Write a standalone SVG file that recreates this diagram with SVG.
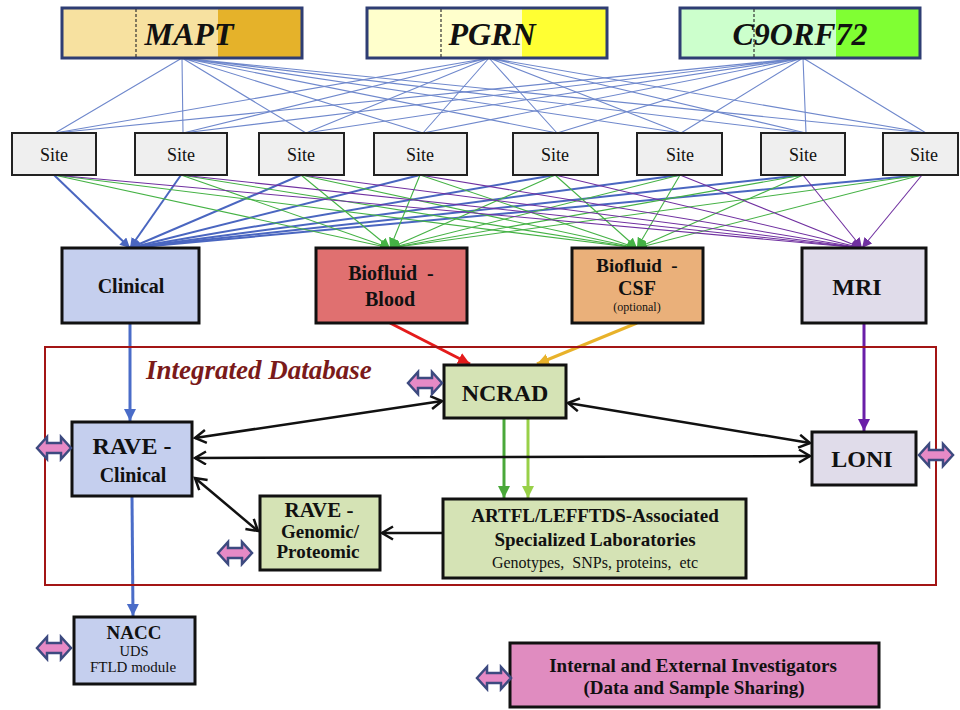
<svg xmlns="http://www.w3.org/2000/svg" width="960" height="710" viewBox="0 0 960 710">
<style>
text{font-family:"Liberation Serif","Times New Roman",serif;text-anchor:middle;fill:#111}
.b{font-weight:bold}
.gene{font-weight:bold;font-style:italic;font-size:32px}
.gbox{stroke:#2e3d73;stroke-width:3}
.dash{stroke:#333;stroke-width:1.2;stroke-dasharray:3 2}
.site{fill:#efefef;stroke:#222;stroke-width:2}
.box{stroke:#111;stroke-width:3}
.fan{stroke:#6f88cc;stroke-width:1.1;fill:none}
.sb{stroke:#4a66c0;stroke-width:2;fill:none}
.sg{stroke:#45b245;stroke-width:1.1;fill:none}
.sp{stroke:#7030a0;stroke-width:1.1;fill:none}
.blk{stroke:#111;stroke-width:2.5;fill:none}
.fat{fill:#e68ac6;stroke:#3d4a80;stroke-width:2.5;stroke-linejoin:miter}
</style>
<defs>
<marker id="mb" markerUnits="userSpaceOnUse" markerWidth="12" markerHeight="12" refX="10" refY="5" orient="auto"><path d="M0,0 L10,5 L0,10 Z" fill="#4a66c0"/></marker>
<marker id="mg" markerUnits="userSpaceOnUse" markerWidth="12" markerHeight="12" refX="10" refY="5" orient="auto"><path d="M0,0 L10,5 L0,10 Z" fill="#45b245"/></marker>
<marker id="mp" markerUnits="userSpaceOnUse" markerWidth="12" markerHeight="12" refX="10" refY="5" orient="auto"><path d="M0,0 L10,5 L0,10 Z" fill="#7030a0"/></marker>
<marker id="mB" markerUnits="userSpaceOnUse" markerWidth="14" markerHeight="14" refX="12" refY="6" orient="auto"><path d="M0,0 L12,6 L0,12 Z" fill="#4a6cc8"/></marker>
<marker id="mR" markerUnits="userSpaceOnUse" markerWidth="14" markerHeight="14" refX="12" refY="6" orient="auto"><path d="M0,0 L12,6 L0,12 Z" fill="#e41b1b"/></marker>
<marker id="mO" markerUnits="userSpaceOnUse" markerWidth="14" markerHeight="14" refX="12" refY="6" orient="auto"><path d="M0,0 L12,6 L0,12 Z" fill="#e8b22a"/></marker>
<marker id="mP" markerUnits="userSpaceOnUse" markerWidth="14" markerHeight="14" refX="12" refY="6" orient="auto"><path d="M0,0 L12,6 L0,12 Z" fill="#6a1fa8"/></marker>
<marker id="mG1" markerUnits="userSpaceOnUse" markerWidth="14" markerHeight="14" refX="12" refY="6" orient="auto"><path d="M0,0 L12,6 L0,12 Z" fill="#4aa83a"/></marker>
<marker id="mG2" markerUnits="userSpaceOnUse" markerWidth="14" markerHeight="14" refX="12" refY="6" orient="auto"><path d="M0,0 L12,6 L0,12 Z" fill="#98d048"/></marker>
<marker id="mK" markerUnits="userSpaceOnUse" markerWidth="16" markerHeight="16" refX="12" refY="7.5" orient="auto-start-reverse"><path d="M1,1 L12,7.5 L1,14" fill="none" stroke="#111" stroke-width="2.5"/></marker>
<path id="fat" d="M-17,0 L-7,-11 L-7,-5 L7,-5 L7,-11 L17,0 L7,11 L7,5 L-7,5 L-7,11 Z"/>
</defs>
<rect width="960" height="710" fill="#fff"/>

<g id="connectors">
<g id="gene-site">
<path class="fan" d="M182,58L55,133M182,58L183,133M182,58L306,133M182,58L423,133M182,58L557,133M182,58L681,133M182,58L806,133M182,58L926,133"/>
<path class="fan" d="M489,58L55,133M489,58L183,133M489,58L306,133M489,58L423,133M489,58L557,133M489,58L681,133M489,58L806,133M489,58L926,133"/>
<path class="fan" d="M803,58L55,133M803,58L183,133M803,58L306,133M803,58L423,133M803,58L557,133M803,58L681,133M803,58L806,133M803,58L926,133"/>
</g>
<g id="site-clinical">
<line class="sb" x1="54" y1="175" x2="130" y2="248" marker-end="url(#mb)"/>
<line class="sb" x1="181" y1="175" x2="130" y2="248" marker-end="url(#mb)"/>
<line class="sb" x1="301" y1="175" x2="130" y2="248" marker-end="url(#mb)"/>
<line class="sb" x1="420" y1="175" x2="130" y2="248" marker-end="url(#mb)"/>
<line class="sb" x1="555" y1="175" x2="130" y2="248" marker-end="url(#mb)"/>
<line class="sb" x1="680" y1="175" x2="130" y2="248" marker-end="url(#mb)"/>
<line class="sb" x1="803" y1="175" x2="130" y2="248" marker-end="url(#mb)"/>
<line class="sb" x1="922" y1="175" x2="130" y2="248" marker-end="url(#mb)"/>
</g>
<g id="site-blood">
<line class="sg" x1="54" y1="175" x2="390" y2="248" marker-end="url(#mg)"/>
<line class="sg" x1="181" y1="175" x2="390" y2="248" marker-end="url(#mg)"/>
<line class="sg" x1="301" y1="175" x2="390" y2="248" marker-end="url(#mg)"/>
<line class="sg" x1="420" y1="175" x2="390" y2="248" marker-end="url(#mg)"/>
<line class="sg" x1="555" y1="175" x2="390" y2="248" marker-end="url(#mg)"/>
<line class="sg" x1="680" y1="175" x2="390" y2="248" marker-end="url(#mg)"/>
<line class="sg" x1="803" y1="175" x2="390" y2="248" marker-end="url(#mg)"/>
<line class="sg" x1="922" y1="175" x2="390" y2="248" marker-end="url(#mg)"/>
</g>
<g id="site-csf">
<line class="sg" x1="54" y1="175" x2="637" y2="248" marker-end="url(#mg)"/>
<line class="sg" x1="181" y1="175" x2="637" y2="248" marker-end="url(#mg)"/>
<line class="sg" x1="301" y1="175" x2="637" y2="248" marker-end="url(#mg)"/>
<line class="sg" x1="420" y1="175" x2="637" y2="248" marker-end="url(#mg)"/>
<line class="sg" x1="555" y1="175" x2="637" y2="248" marker-end="url(#mg)"/>
<line class="sg" x1="680" y1="175" x2="637" y2="248" marker-end="url(#mg)"/>
<line class="sg" x1="803" y1="175" x2="637" y2="248" marker-end="url(#mg)"/>
<line class="sg" x1="922" y1="175" x2="637" y2="248" marker-end="url(#mg)"/>
</g>
<g id="site-mri">
<line class="sp" x1="54" y1="175" x2="862" y2="248" marker-end="url(#mp)"/>
<line class="sp" x1="181" y1="175" x2="862" y2="248" marker-end="url(#mp)"/>
<line class="sp" x1="301" y1="175" x2="862" y2="248" marker-end="url(#mp)"/>
<line class="sp" x1="420" y1="175" x2="862" y2="248" marker-end="url(#mp)"/>
<line class="sp" x1="555" y1="175" x2="862" y2="248" marker-end="url(#mp)"/>
<line class="sp" x1="680" y1="175" x2="862" y2="248" marker-end="url(#mp)"/>
<line class="sp" x1="803" y1="175" x2="862" y2="248" marker-end="url(#mp)"/>
<line class="sp" x1="922" y1="175" x2="862" y2="248" marker-end="url(#mp)"/>
</g>
<line x1="130" y1="323" x2="130" y2="421" stroke="#4a6cc8" stroke-width="3" marker-end="url(#mB)"/>
<line x1="132" y1="496" x2="133" y2="616" stroke="#4a6cc8" stroke-width="3" marker-end="url(#mB)"/>
<line x1="390" y1="323" x2="470" y2="364" stroke="#e41b1b" stroke-width="3" marker-end="url(#mR)"/>
<line x1="637" y1="323" x2="537" y2="364" stroke="#e8b22a" stroke-width="3" marker-end="url(#mO)"/>
<line x1="864" y1="323" x2="864" y2="431" stroke="#6a1fa8" stroke-width="3" marker-end="url(#mP)"/>
<line x1="504" y1="419" x2="504" y2="498" stroke="#4aa83a" stroke-width="3" marker-end="url(#mG1)"/>
<line x1="528" y1="419" x2="528" y2="498" stroke="#98d048" stroke-width="3" marker-end="url(#mG2)"/>
<line class="blk" x1="195" y1="438" x2="442" y2="401" marker-start="url(#mK)" marker-end="url(#mK)"/>
<line class="blk" x1="195" y1="458" x2="810" y2="456" marker-start="url(#mK)" marker-end="url(#mK)"/>
<line class="blk" x1="568" y1="403" x2="810" y2="443" marker-start="url(#mK)" marker-end="url(#mK)"/>
<line class="blk" x1="195" y1="478" x2="258" y2="531" marker-start="url(#mK)" marker-end="url(#mK)"/>
<line class="blk" x1="443" y1="533" x2="382" y2="533" marker-end="url(#mK)"/>
</g>

<g id="integrated-database">
<rect x="45" y="347" width="891" height="238" fill="none" stroke="#a31515" stroke-width="2"/>
<text x="146" y="379" style="text-anchor:start;font-weight:bold;font-style:italic;font-size:27px;fill:#7a1a1a">Integrated Database</text>
</g>

<g id="gene-mapt">
<rect x="62" y="8" width="156" height="50" fill="#f7e1a0"/>
<rect x="218" y="8" width="84" height="50" fill="#e5b22a"/>
<rect class="gbox" x="62" y="8" width="240" height="50" fill="none"/>
<line class="dash" x1="136" y1="9" x2="136" y2="57"/>
<text class="gene" x="189" y="45">MAPT</text>
</g>
<g id="gene-pgrn">
<rect x="367" y="8" width="155" height="50" fill="#ffffcc"/>
<rect x="522" y="8" width="85" height="50" fill="#ffff33"/>
<rect class="gbox" x="367" y="8" width="240" height="50" fill="none"/>
<line class="dash" x1="441" y1="9" x2="441" y2="57"/>
<text class="gene" x="492" y="45">PGRN</text>
</g>
<g id="gene-c9orf72">
<rect x="680" y="8" width="156" height="50" fill="#ccffcc"/>
<rect x="836" y="8" width="84" height="50" fill="#80ff33"/>
<rect class="gbox" x="680" y="8" width="240" height="50" fill="none"/>
<line class="dash" x1="754" y1="9" x2="754" y2="57"/>
<text class="gene" x="800" y="45">C9ORF72</text>
</g>

<g id="site-1"><rect class="site" x="12" y="133" width="84" height="42"/><text x="54" y="161" font-size="18">Site</text></g>
<g id="site-2"><rect class="site" x="135" y="133" width="92" height="42"/><text x="181" y="161" font-size="18">Site</text></g>
<g id="site-3"><rect class="site" x="259" y="133" width="85" height="42"/><text x="301" y="161" font-size="18">Site</text></g>
<g id="site-4"><rect class="site" x="374" y="133" width="93" height="42"/><text x="420" y="161" font-size="18">Site</text></g>
<g id="site-5"><rect class="site" x="513" y="133" width="85" height="42"/><text x="555" y="161" font-size="18">Site</text></g>
<g id="site-6"><rect class="site" x="637" y="133" width="85" height="42"/><text x="680" y="161" font-size="18">Site</text></g>
<g id="site-7"><rect class="site" x="761" y="133" width="84" height="42"/><text x="803" y="161" font-size="18">Site</text></g>
<g id="site-8"><rect class="site" x="883" y="133" width="75" height="42"/><text x="924" y="161" font-size="18">Site</text></g>

<g id="clinical"><rect class="box" x="62" y="248" width="137" height="75" fill="#c5cfee"/><text class="b" x="131" y="293" font-size="20">Clinical</text></g>
<g id="biofluid-blood"><rect class="box" x="316" y="248" width="151" height="75" fill="#e07070"/><text class="b" x="391" y="280" font-size="20" xml:space="preserve">Biofluid  -</text><text class="b" x="390" y="306" font-size="20">Blood</text></g>
<g id="biofluid-csf"><rect class="box" x="572" y="248" width="131" height="75" fill="#eab07a"/><text class="b" x="637" y="272" font-size="19" xml:space="preserve">Biofluid  -</text><text class="b" x="637" y="295" font-size="20">CSF</text><text x="637" y="311" font-size="12">(optional)</text></g>
<g id="mri"><rect class="box" x="802" y="248" width="124" height="75" fill="#e0dcea"/><text class="b" x="857" y="295" font-size="24">MRI</text></g>

<g id="ncrad"><rect class="box" x="444" y="365" width="122" height="53" fill="#d5e3b5"/><text class="b" x="505" y="401" font-size="24">NCRAD</text></g>
<g id="loni"><rect class="box" x="812" y="432" width="104" height="53" fill="#e0dcea"/><text class="b" x="862" y="467" font-size="24">LONI</text></g>
<g id="rave-clinical"><rect class="box" x="72" y="422" width="120" height="74" fill="#c5cfee"/><text class="b" x="132" y="454" font-size="24">RAVE -</text><text class="b" x="133" y="482" font-size="20">Clinical</text></g>
<g id="rave-genomic"><rect class="box" x="260" y="496" width="120" height="74" fill="#d5e3b5"/><text class="b" x="319" y="517" font-size="21">RAVE -</text><text class="b" x="320" y="538" font-size="19">Genomic/</text><text class="b" x="318" y="558" font-size="19">Proteomic</text></g>
<g id="artfl-labs"><rect class="box" x="443" y="499" width="303" height="79" fill="#d5e3b5"/><text class="b" x="595" y="522" font-size="19">ARTFL/LEFFTDS-Associated</text><text class="b" x="595" y="546" font-size="19">Specialized Laboratories</text><text x="595" y="568" font-size="16" xml:space="preserve">Genotypes,  SNPs, proteins,  etc</text></g>
<g id="nacc"><rect class="box" x="74" y="617" width="121" height="67" fill="#c5cfee"/><text class="b" x="134" y="639" font-size="19">NACC</text><text x="134" y="656" font-size="14.5">UDS</text><text x="133" y="672" font-size="15">FTLD module</text></g>
<g id="investigators"><rect class="box" x="510" y="643" width="369" height="64" fill="#e08cc0"/><text class="b" x="693" y="672" font-size="19">Internal and External Investigators</text><text class="b" x="694" y="694" font-size="19">(Data and Sample Sharing)</text></g>

<g id="sharing-arrows">
<use href="#fat" class="fat" x="425" y="383"/>
<use href="#fat" class="fat" x="54" y="448"/>
<use href="#fat" class="fat" x="235" y="553"/>
<use href="#fat" class="fat" x="936" y="455"/>
<use href="#fat" class="fat" x="54" y="648"/>
<use href="#fat" class="fat" x="494" y="678"/>
</g>
</svg>
